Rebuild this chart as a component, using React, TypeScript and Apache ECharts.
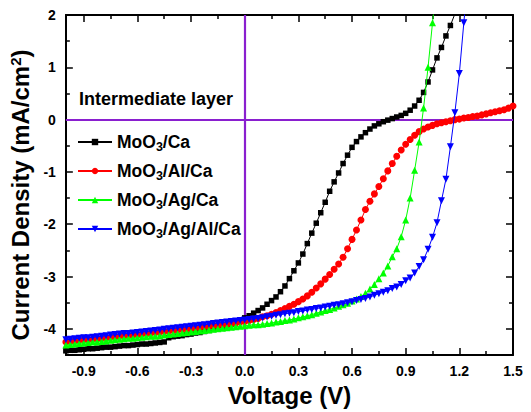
import React, { useEffect, useRef } from "react";
import * as echarts from "echarts";

const FONT = "'Liberation Sans', Arial, sans-serif";

// Applied voltage (V)
const voltage = [
  -1.000, -0.975, -0.950, -0.925, -0.900, -0.875, -0.850, -0.825, -0.800, -0.775,
  -0.750, -0.725, -0.700, -0.675, -0.650, -0.625, -0.600, -0.575, -0.550, -0.525,
  -0.500, -0.475, -0.450, -0.425, -0.400, -0.375, -0.350, -0.325, -0.300, -0.275,
  -0.250, -0.225, -0.200, -0.175, -0.150, -0.125, -0.100, -0.075, -0.050, -0.025,
  0.000, 0.025, 0.050, 0.075, 0.100, 0.125, 0.150, 0.175, 0.200, 0.225,
  0.250, 0.275, 0.300, 0.325, 0.350, 0.375, 0.400, 0.425, 0.450, 0.475,
  0.500, 0.525, 0.550, 0.575, 0.600, 0.625, 0.650, 0.675, 0.700, 0.725,
  0.750, 0.775, 0.800, 0.825, 0.850, 0.875, 0.900, 0.925, 0.950, 0.975,
  1.000, 1.025, 1.050, 1.075, 1.100, 1.125, 1.150, 1.175, 1.200, 1.225,
  1.250, 1.275, 1.300, 1.325, 1.350, 1.375, 1.400, 1.425, 1.450, 1.475,
  1.500,
];

// Current density (mA/cm2)
const jMoO3Ca = [
  -4.42, -4.41, -4.41, -4.40, -4.39, -4.38, -4.38, -4.37, -4.36, -4.35,
  -4.35, -4.34, -4.33, -4.32, -4.32, -4.31, -4.30, -4.29, -4.29, -4.28,
  -4.27, -4.26, -4.25, -4.17, -4.15, -4.14, -4.13, -4.11, -4.10, -4.08,
  -4.07, -4.05, -4.03, -4.01, -3.99, -3.97, -3.94, -3.91, -3.88, -3.84,
  -3.79, -3.75, -3.70, -3.65, -3.60, -3.53, -3.46, -3.39, -3.29, -3.18,
  -3.04, -2.89, -2.74, -2.57, -2.37, -2.17, -1.98, -1.78, -1.58, -1.37,
  -1.19, -1.02, -0.84, -0.68, -0.53, -0.42, -0.33, -0.25, -0.18, -0.12,
  -0.08, -0.04, -0.01, 0.02, 0.05, 0.08, 0.12, 0.18, 0.26, 0.37,
  0.52, 0.72, 0.95, 1.18, 1.38, 1.60, 1.80, 2.02, 2.25,
];

const jMoO3AlCa = [
  -4.25, -4.24, -4.23, -4.22, -4.21, -4.21, -4.20, -4.19, -4.18, -4.17,
  -4.16, -4.15, -4.14, -4.13, -4.13, -4.12, -4.11, -4.10, -4.09, -4.08,
  -4.07, -4.06, -4.05, -4.04, -4.03, -4.02, -4.01, -4.00, -3.99, -3.98,
  -3.97, -3.96, -3.95, -3.94, -3.93, -3.92, -3.91, -3.90, -3.89, -3.87,
  -3.86, -3.84, -3.82, -3.80, -3.77, -3.75, -3.72, -3.69, -3.65, -3.61,
  -3.57, -3.53, -3.48, -3.43, -3.37, -3.30, -3.22, -3.14, -3.05, -2.96,
  -2.86, -2.76, -2.63, -2.47, -2.29, -2.11, -1.92, -1.72, -1.56, -1.42,
  -1.28, -1.13, -0.98, -0.84, -0.70, -0.58, -0.47, -0.38, -0.30, -0.23,
  -0.18, -0.14, -0.11, -0.08, -0.06, -0.04, -0.02, 0.00, 0.01, 0.03,
  0.04, 0.06, 0.07, 0.09, 0.11, 0.13, 0.15, 0.17, 0.19, 0.22,
  0.26,
];

const jMoO3AgCa = [
  -4.31, -4.30, -4.29, -4.28, -4.27, -4.26, -4.25, -4.25, -4.24, -4.23,
  -4.22, -4.21, -4.20, -4.19, -4.18, -4.18, -4.17, -4.16, -4.15, -4.14,
  -4.14, -4.13, -4.12, -4.11, -4.10, -4.09, -4.08, -4.07, -4.06, -4.05,
  -4.04, -4.03, -4.02, -4.01, -4.00, -3.99, -3.98, -3.97, -3.96, -3.95,
  -3.94, -3.93, -3.92, -3.92, -3.91, -3.90, -3.89, -3.87, -3.86, -3.84,
  -3.83, -3.81, -3.79, -3.77, -3.75, -3.73, -3.70, -3.68, -3.65, -3.63,
  -3.60, -3.57, -3.54, -3.51, -3.47, -3.43, -3.38, -3.32, -3.24, -3.15,
  -3.04, -2.93, -2.80, -2.62, -2.47, -2.24, -1.92, -1.50, -0.97, -0.43,
  0.22, 1.00, 1.85, 2.70,
];

const jMoO3AgAlCa = [
  -4.21, -4.20, -4.19, -4.18, -4.17, -4.17, -4.16, -4.15, -4.14, -4.13,
  -4.12, -4.11, -4.10, -4.09, -4.09, -4.08, -4.07, -4.06, -4.05, -4.04,
  -4.03, -4.02, -4.01, -4.00, -3.99, -3.98, -3.97, -3.96, -3.95, -3.94,
  -3.93, -3.92, -3.91, -3.90, -3.89, -3.88, -3.87, -3.86, -3.85, -3.84,
  -3.83, -3.82, -3.81, -3.80, -3.79, -3.77, -3.76, -3.74, -3.73, -3.71,
  -3.70, -3.69, -3.67, -3.66, -3.64, -3.63, -3.61, -3.60, -3.58, -3.57,
  -3.55, -3.54, -3.52, -3.50, -3.48, -3.46, -3.44, -3.42, -3.39, -3.36,
  -3.33, -3.30, -3.27, -3.23, -3.20, -3.15, -3.08, -3.03, -2.93, -2.81,
  -2.68, -2.48, -2.25, -1.97, -1.55, -1.14, -0.52, 0.13, 0.88, 1.85,
  2.80,
];

const seriesNames = ["MoO3/Ca", "MoO3/Al/Ca", "MoO3/Ag/Ca", "MoO3/Ag/Al/Ca"];
const seriesColors = ["#000000", "#ff0000", "#00ff00", "#0000ff"];

const xMajorTicks = [-0.9, -0.6, -0.3, 0.0, 0.3, 0.6, 0.9, 1.2, 1.5];
const xMinorTicks = [-0.75, -0.45, -0.15, 0.15, 0.45, 0.75, 1.05, 1.35];
const yMajorTicks = [-4, -3, -2, -1, 0, 1, 2];
const yMinorTicks = [-3.5, -2.5, -1.5, -0.5, 0.5, 1.5];

const X_MIN = -1.0;
const X_MAX = 1.5;
const Y_MIN = -4.5;
const Y_MAX = 2.0;

function pairs(values: number[]) {
  return values.map((v, i) => [voltage[i], v]);
}

export default function App() {
  const ref = useRef<HTMLDivElement>(null);

  useEffect(() => {
    if (!ref.current) return;
    const chart = echarts.init(ref.current, null, { renderer: "svg" });

    const lineStyleAxis = { color: "#000", width: 2 };
    const tickStyle = { color: "#000", width: 1.5 };

    const mkX = (position: string, ticks: number[], len: number, showLine: boolean, labels: boolean, extra: any = {}) => ({
      type: "value",
      position,
      min: X_MIN,
      max: X_MAX,
      axisLine: { show: showLine, onZero: false, lineStyle: lineStyleAxis },
      axisTick: { show: true, inside: true, length: len, lineStyle: tickStyle, customValues: ticks },
      axisLabel: labels
        ? {
            show: true,
            customValues: ticks,
            formatter: (v: number) => v.toFixed(1),
            fontFamily: FONT,
            fontWeight: "bold",
            fontSize: 14,
            color: "#000",
            margin: 9,
          }
        : { show: false },
      splitLine: { show: false },
      ...extra,
    });

    const mkY = (position: string, ticks: number[], len: number, showLine: boolean, labels: boolean, extra: any = {}) => ({
      type: "value",
      position,
      min: Y_MIN,
      max: Y_MAX,
      axisLine: { show: showLine, onZero: false, lineStyle: lineStyleAxis },
      axisTick: { show: true, inside: true, length: len, lineStyle: tickStyle, customValues: ticks },
      axisLabel: labels
        ? {
            show: true,
            customValues: ticks,
            formatter: (v: number) => String(v),
            fontFamily: FONT,
            fontWeight: "bold",
            fontSize: 14,
            color: "#000",
            margin: 10,
          }
        : { show: false },
      splitLine: { show: false },
      ...extra,
    });

    const datasets = [jMoO3Ca, jMoO3AlCa, jMoO3AgCa, jMoO3AgAlCa];
    const symbols = ["rect", "circle", "triangle", "triangle"];
    const symbolSizes = [5.5, 7, 7, 7];
    const rotates = [0, 0, 0, 180];

    const series: any[] = datasets.map((d, i) => ({
      name: seriesNames[i],
      type: "line",
      xAxisIndex: 0,
      yAxisIndex: 0,
      data: pairs(d),
      symbol: symbols[i],
      symbolSize: symbolSizes[i],
      symbolRotate: rotates[i],
      showAllSymbol: true,
      lineStyle: { color: seriesColors[i], width: 1 },
      itemStyle: { color: seriesColors[i] },
      clip: true,
      z: 3 + i,
    }));

    series[0].markLine = {
      silent: true,
      symbol: ["none", "none"],
      label: { show: false },
      lineStyle: { color: "#8a1fcf", type: "solid", width: 2.2 },
      data: [{ xAxis: 0 }, { yAxis: 0 }],
      z: 1,
    };

    chart.setOption({
      animation: false,
      backgroundColor: "#fff",
      grid: { left: 65, top: 15, right: 18, bottom: 55, containLabel: false },
      xAxis: [
        mkX("bottom", xMajorTicks, 7, true, true, {
          name: "Voltage (V)",
          nameLocation: "middle",
          nameGap: 28,
          nameTextStyle: { fontFamily: FONT, fontWeight: "bold", fontSize: 24, color: "#000" },
        }),
        mkX("bottom", xMinorTicks, 4, false, false),
        mkX("top", xMajorTicks, 7, true, false),
        mkX("top", xMinorTicks, 4, false, false),
      ],
      yAxis: [
        mkY("left", yMajorTicks, 7, true, true, {
          name: "Current Density (mA/cm{sup|2})",
          nameLocation: "middle",
          nameGap: 30,
          nameRotate: 90,
          nameTextStyle: {
            fontFamily: FONT,
            fontWeight: "bold",
            fontSize: 24,
            color: "#000",
            padding: [0, 20, 0, 0],
            rich: {
              sup: { fontFamily: FONT, fontWeight: "bold", fontSize: 15, color: "#000", padding: [0, 0, 10, 0] },
            },
          },
        }),
        mkY("left", yMinorTicks, 4, false, false),
        mkY("right", yMajorTicks, 7, true, false),
        mkY("right", yMinorTicks, 4, false, false),
      ],
      legend: {
        orient: "vertical",
        left: 72,
        top: 128,
        itemWidth: 34,
        itemHeight: 8,
        itemGap: 9,
        data: seriesNames,
        formatter: (name: string) => name.replace("3", "{s|3}"),
        textStyle: {
          fontFamily: FONT,
          fontWeight: "bold",
          fontSize: 17.5,
          color: "#000",
          rich: {
            s: { fontFamily: FONT, fontWeight: "bold", fontSize: 12.5, color: "#000", padding: [9, 0, 0, 0] },
          },
        },
      },
      graphic: [
        {
          type: "text",
          left: 79,
          top: 90,
          style: { text: "Intermediate layer", font: `bold 18px ${FONT}`, fill: "#000" },
        },
      ],
      series,
    });

    return () => chart.dispose();
  }, []);

  return <div ref={ref} style={{ position: "fixed", left: 0, top: 0, width: 531, height: 412 }} />;
}
